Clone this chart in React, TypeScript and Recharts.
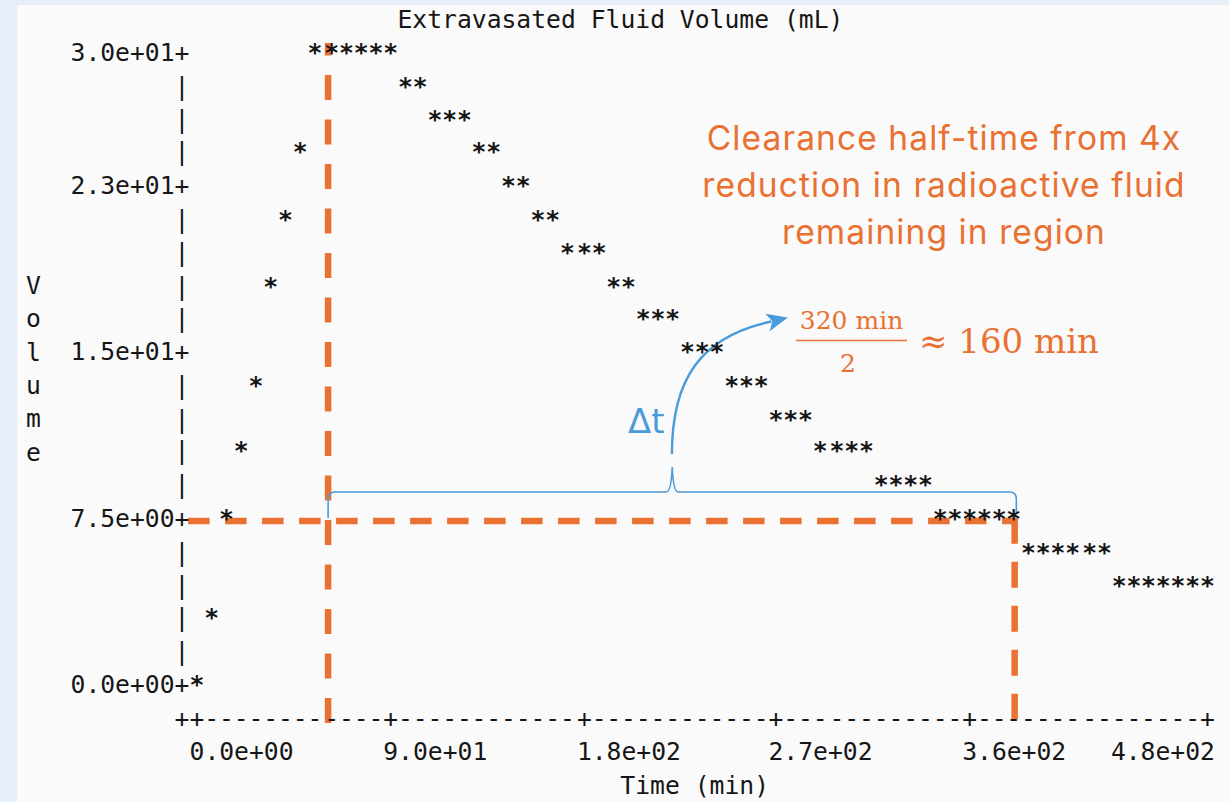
import { ReferenceLine, Scatter, ScatterChart, XAxis, YAxis } from "recharts";

// one sample per plot column (minutes) and the row level it was printed on (mL)
const timesMin = [
  0, 7, 14, 21, 28, 35, 42, 49, 56, 64, 71, 78, 85, 92, 99, 106, 113, 120, 127, 134, 141, 148, 155, 162, 169, 176, 184,
  191, 198, 205, 212, 219, 226, 233, 240, 247, 254, 261, 268, 275, 282, 289, 296, 304, 311, 318, 325, 332, 339, 346, 353,
  360, 367, 374, 381, 388, 395, 402, 409, 416, 424, 431, 438, 445, 452, 459, 466, 473, 480,
];
const volumesMl = [
  0, 3.2, 7.9, 11.1, 14.2, 18.9, 22.1, 25.3, 30, 30, 30, 30, 30, 30, 28.4, 28.4, 26.8, 26.8, 26.8, 25.3, 25.3, 23.7, 23.7,
  22.1, 22.1, 20.5, 20.5, 20.5, 18.9, 18.9, 17.4, 17.4, 17.4, 15.8, 15.8, 15.8, 14.2, 14.2, 14.2, 12.6, 12.6, 12.6, 11.1,
  11.1, 11.1, 11.1, 9.5, 9.5, 9.5, 9.5, 7.9, 7.9, 7.9, 7.9, 7.9, 7.9, 6.3, 6.3, 6.3, 6.3, 6.3, 6.3, 4.7, 4.7, 4.7, 4.7,
  4.7, 4.7, 4.7,
];

// text-plot rows on the y axis, and the ones that carry a label
const yRowLevels = [30, 28.4, 26.8, 25.3, 23.7, 22.1, 20.5, 18.9, 17.4, 15.8, 14.2, 12.6, 11.1, 9.5, 7.9, 6.3, 4.7, 3.2, 1.6, 0];
const yLabelLevels = [30, 23.7, 15.8, 7.9, 0];
const yLabelText = ["3.0e+01", "2.3e+01", "1.5e+01", "7.5e+00", "0.0e+00"];

const xCorner = -7.1;
const xLabelTimes = [0, 92, 184, 275, 367, 480];
const xLabelText = ["0.0e+00", "9.0e+01", "1.8e+02", "2.7e+02", "3.6e+02", "4.8e+02"];

// annotation anchors (data units)
const peakTime = 62.3;
const quarterTime = 388.4;
const quarterLevel = 7.8;
const braceLevel = 9.17;
const arrowFrom = { x: 225.6, y: 10.97 };
const arrowTo = { x: 280.7, y: 17.45 };

const W = 1229;
const H = 802;
const CHAR = 14.86;
const ROW = 33.3;
const AXIS_X = 182;
const TOP = 53;
const BASE = 8;
const MONO = "'DejaVu Sans Mono', monospace";
const FS = 24.7;
const INK = "#161616";
const ORANGE = "#E97132";
const BLUE = "#4A9BDA";

const points = timesMin.map((t, i) => ({ t, v: volumesMl[i] }));
const xTicks = [xCorner, ...timesMin];

function mono(
  x: number,
  y: number,
  s: string,
  anchor: "start" | "middle" | "end" = "middle",
  key?: string,
  weight: number = 400
) {
  return (
    <text
      key={key}
      x={x}
      y={y + BASE}
      textAnchor={anchor}
      fontFamily={MONO}
      fontSize={FS}
      fontWeight={weight}
      fill={INK}
    >
      {s}
    </text>
  );
}

function YTick(props: any) {
  const { x, y, payload } = props;
  const i = yLabelLevels.indexOf(payload.value);
  if (i < 0) return mono(x, y, "|");
  return (
    <g>
      {mono(x - CHAR / 2, y, yLabelText[i], "end")}
      {mono(x, y, "+")}
    </g>
  );
}

function XTick(props: any) {
  const { x, y, payload } = props;
  const i = xLabelTimes.indexOf(payload.value);
  const plus = i >= 0 || payload.value === xCorner;
  if (i < 0) return mono(x, y, plus ? "+" : "-");
  const last = i === xLabelTimes.length - 1;
  return (
    <g>
      {mono(x, y, "+")}
      {last ? mono(x + CHAR / 2, y + ROW, xLabelText[i], "end") : mono(x - CHAR / 2, y + ROW, xLabelText[i], "start")}
    </g>
  );
}

function Star(props: any) {
  const { cx, cy } = props;
  return mono(cx, cy, "*", "middle", undefined, 700);
}

function Brace(props: any) {
  const { x1, y1, x2 } = props;
  const xm = (x1 + x2) / 2;
  const d =
    `M${x1},${y1 + 26} L${x1},${y1 + 7} Q${x1},${y1} ${x1 + 7},${y1} L${xm - 6},${y1} ` +
    `Q${xm - 1},${y1} ${xm},${y1 - 25} Q${xm + 1},${y1} ${xm + 6},${y1} ` +
    `L${x2 - 7},${y1} Q${x2},${y1} ${x2},${y1 + 7} L${x2},${y1 + 22}`;
  return <path d={d} fill="none" stroke={BLUE} strokeWidth={1.6} />;
}

function CurvedArrow(props: any) {
  const { x1, y1, x2, y2 } = props;
  const dx = x2 - x1;
  const dy = y2 - y1;
  const ux = Math.cos(-0.24);
  const uy = Math.sin(-0.24);
  const hl = 21;
  const hw = 9;
  const bx = x2 - ux * hl;
  const by = y2 - uy * hl;
  const d = `M${x1},${y1} C${x1},${y1 + 0.54 * dy} ${x1 + 0.24 * dx},${y1 + 0.86 * dy} ${bx + ux * 4},${by + uy * 4}`;
  const head = `M${x2},${y2} L${bx - uy * hw},${by + ux * hw} L${bx + ux * 5},${by + uy * 5} L${bx + uy * hw},${by - ux * hw} Z`;
  return (
    <g>
      <path d={d} fill="none" stroke={BLUE} strokeWidth={2.4} />
      <path d={head} fill={BLUE} stroke="none" />
    </g>
  );
}

export default function App() {
  const volumeLetters = "Volume".split("");
  return (
    <div style={{ position: "fixed", left: 0, top: 0, width: W, height: H, background: "#E6EFF7" }}>
      <div style={{ position: "absolute", left: 17, top: 5, right: 0, bottom: 0, background: "#FAFAFA" }} />
      <div style={{ position: "absolute", left: 0, top: 0 }}>
        <ScatterChart width={W} height={H} margin={{ top: TOP, right: 21.5, bottom: 0, left: 0 }}>
          <XAxis
            type="number"
            dataKey="t"
            domain={[xCorner, 480]}
            ticks={xTicks}
            interval={0}
            tickSize={0}
            tickMargin={0}
            axisLine={false}
            tickLine={false}
            height={83}
            tick={(p: any) => <XTick {...p} />}
          />
          <YAxis
            type="number"
            dataKey="v"
            domain={[-1.6, 30]}
            ticks={yRowLevels}
            interval={0}
            tickSize={0}
            tickMargin={0}
            axisLine={false}
            tickLine={false}
            width={182}
            tick={(p: any) => <YTick {...p} />}
          />
          <Scatter data={points} isAnimationActive={false} shape={Star} />
          <ReferenceLine
            segment={[{ x: peakTime, y: -1.79 }, { x: peakTime, y: 30.47 }]}
            stroke={ORANGE}
            strokeWidth={6.5}
            strokeDasharray="25 19.5"
            ifOverflow="visible"
          />
          <ReferenceLine
            segment={[{ x: -4.2, y: quarterLevel }, { x: quarterTime + 1.5, y: quarterLevel }]}
            stroke={ORANGE}
            strokeWidth={6.5}
            strokeDasharray="21.5 15.5"
            ifOverflow="visible"
          />
          <ReferenceLine
            segment={[{ x: quarterTime, y: quarterLevel + 0.15 }, { x: quarterTime, y: -1.6 }]}
            stroke={ORANGE}
            strokeWidth={6.5}
            strokeDasharray="26 18"
            ifOverflow="visible"
          />
          <ReferenceLine
            segment={[{ x: peakTime, y: braceLevel }, { x: quarterTime + 0.8, y: braceLevel }]}
            ifOverflow="visible"
            shape={(p: any) => <Brace {...p} />}
          />
          <ReferenceLine
            segment={[arrowFrom, arrowTo]}
            ifOverflow="visible"
            shape={(p: any) => <CurvedArrow {...p} />}
          />

          {mono(AXIS_X + 14.5 * CHAR, TOP - ROW, "Extravasated Fluid Volume (mL)", "start", "title")}
          {mono(AXIS_X + 29.5 * CHAR, TOP + 22 * ROW, "Time (min)", "start", "xlab")}
          {volumeLetters.map((c, i) => mono(AXIS_X - 10 * CHAR, TOP + (7 + i) * ROW, c, "middle", `v${i}`))}

          <text
            x={944}
            fontFamily="Inter, 'Open Sans', sans-serif"
            fontSize={33.5}
            letterSpacing={1.1}
            fill={ORANGE}
            textAnchor="middle"
          >
            <tspan x={944} y={150}>Clearance half-time from 4x</tspan>
            <tspan x={944} y={197}>reduction in radioactive fluid</tspan>
            <tspan x={944} y={244}>remaining in region</tspan>
          </text>
          <text x={851.5} y={329} fontFamily="'DejaVu Serif', serif" fontSize={25} fill={ORANGE} textAnchor="middle">
            320 min
          </text>
          <line x1={796} x2={907} y1={340.5} y2={340.5} stroke={ORANGE} strokeWidth={1.6} />
          <text x={848} y={372} fontFamily="'DejaVu Serif', serif" fontSize={25} fill={ORANGE} textAnchor="middle">
            2
          </text>
          <text x={919} y={353} fontFamily="'DejaVu Serif', serif" fontSize={34} fill={ORANGE}>
            ≈ 160 min
          </text>
          <text x={628} y={433} fontFamily="'DejaVu Sans', sans-serif" fontSize={34} fill={BLUE}>
            Δt
          </text>
        </ScatterChart>
      </div>
    </div>
  );
}
